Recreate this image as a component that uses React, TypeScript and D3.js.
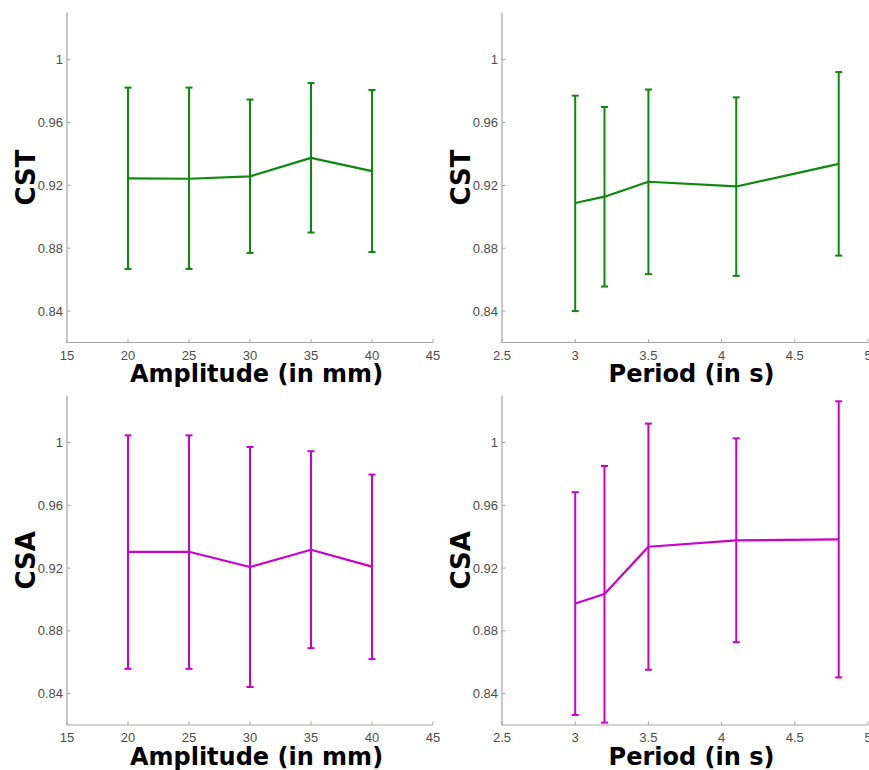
import React from "react";
import * as d3 from "d3";

// ---- Data ----
const amplitudes = [20, 25, 30, 35, 40];
const periods = [3, 3.2, 3.5, 4.1, 4.8];

const cstAmpMean = [0.9244, 0.9242, 0.9257, 0.9375, 0.9291];
const cstAmpUpper = [0.9822, 0.9822, 0.9746, 0.9851, 0.9807];
const cstAmpLower = [0.8668, 0.8668, 0.877, 0.89, 0.8776];

const cstPerMean = [0.9088, 0.9128, 0.9223, 0.9193, 0.9337];
const cstPerUpper = [0.9771, 0.9699, 0.981, 0.976, 0.9921];
const cstPerLower = [0.84, 0.8556, 0.8635, 0.8624, 0.8753];

const csaAmpMean = [0.9304, 0.9304, 0.9207, 0.9317, 0.9209];
const csaAmpUpper = [1.0046, 1.0046, 0.9972, 0.9945, 0.9796];
const csaAmpLower = [0.8558, 0.8558, 0.8442, 0.869, 0.862];

const csaPerMean = [0.8974, 0.9035, 0.9336, 0.9377, 0.9383];
const csaPerUpper = [0.9684, 0.9851, 1.0121, 1.0027, 1.0263];
const csaPerLower = [0.8264, 0.8215, 0.8552, 0.8728, 0.8503];

const ampTicks = [15, 20, 25, 30, 35, 40, 45];
const perTicks = [2.5, 3, 3.5, 4, 4.5, 5];
const yTicks = [0.84, 0.88, 0.92, 0.96, 1];
const yDomain: [number, number] = [0.82, 1.03];

const GREEN = "#0b8a0b";
const MAGENTA = "#cc00cc";

type PanelProps = {
  xs: number[];
  mean: number[];
  upper: number[];
  lower: number[];
  xDomain: [number, number];
  xRange: [number, number];
  yRange: [number, number];
  xTicks: number[];
  xLabel: string;
  yLabel: string;
  yLabelX: number;
  xLabelY: number;
  color: string;
};

function Panel(p: PanelProps) {
  const x = d3.scaleLinear().domain(p.xDomain).range(p.xRange);
  const y = d3.scaleLinear().domain(yDomain).range(p.yRange);
  const line = d3
    .line<number>()
    .x((_, i) => x(p.xs[i]))
    .y((d) => y(d));
  const x0 = p.xRange[0];
  const x1 = p.xRange[1];
  const yb = p.yRange[0];
  const yt = p.yRange[1];
  const axisColor = "#a6a6a6";
  const tickColor = "#4d4d4d";
  const cap = 3.5;
  return (
    <g>
      {/* axes */}
      <path d={`M${x0},${yt}V${yb}H${x1}`} fill="none" stroke={axisColor} strokeWidth={1.2} />
      {p.xTicks.map((t) => (
        <g key={"x" + t}>
          <line x1={x(t)} x2={x(t)} y1={yb} y2={yb - 3.5} stroke={axisColor} strokeWidth={1} />
          <text
            x={x(t)}
            y={yb + 17}
            textAnchor="middle"
            fontFamily="'Liberation Sans', Arial, sans-serif"
            fontSize={13}
            fill={tickColor}
          >
            {String(t)}
          </text>
        </g>
      ))}
      {yTicks.map((t) => (
        <g key={"y" + t}>
          <line x1={x0} x2={x0 + 3.5} y1={y(t)} y2={y(t)} stroke={axisColor} strokeWidth={1} />
          <text
            x={x0 - 4}
            y={y(t) + 4.5}
            textAnchor="end"
            fontFamily="'Liberation Sans', Arial, sans-serif"
            fontSize={13}
            fill={tickColor}
          >
            {String(t)}
          </text>
        </g>
      ))}
      {/* error bars */}
      {p.xs.map((v, i) => (
        <g key={"e" + i} stroke={p.color} strokeWidth={2} fill="none">
          <line x1={x(v)} x2={x(v)} y1={y(p.upper[i])} y2={y(p.lower[i])} />
          <line x1={x(v) - cap} x2={x(v) + cap} y1={y(p.upper[i])} y2={y(p.upper[i])} />
          <line x1={x(v) - cap} x2={x(v) + cap} y1={y(p.lower[i])} y2={y(p.lower[i])} />
        </g>
      ))}
      <path d={line(p.mean) || ""} fill="none" stroke={p.color} strokeWidth={2.2} strokeLinejoin="round" />
      {/* labels */}
      <text
        x={(x0 + x1) / 2 + 6.5}
        y={p.xLabelY}
        textAnchor="middle"
        fontFamily="'DejaVu Sans', sans-serif"
        fontWeight="bold"
        fontSize={24}
        fill="#000"
      >
        {p.xLabel}
      </text>
      <text
        transform={`translate(${p.yLabelX},${(yb + yt) / 2}) rotate(-90)`}
        textAnchor="middle"
        fontFamily="'DejaVu Sans', sans-serif"
        fontWeight="bold"
        fontSize={26}
        fill="#000"
      >
        {p.yLabel}
      </text>
    </g>
  );
}

export default function App() {
  const topY: [number, number] = [342.5, 12.5];
  const botY: [number, number] = [725, 395.5];
  const leftX: [number, number] = [67, 433];
  const rightX: [number, number] = [502, 868];
  return (
    <svg
      width={869}
      height={770}
      style={{ position: "absolute", left: 0, top: 0, background: "#fff" }}
    >
      <rect width={869} height={770} fill="#fff" />
      <Panel
        xs={amplitudes}
        mean={cstAmpMean}
        upper={cstAmpUpper}
        lower={cstAmpLower}
        xDomain={[15, 45]}
        xRange={leftX}
        yRange={topY}
        xTicks={ampTicks}
        xLabel="Amplitude (in mm)"
        yLabel="CST"
        yLabelX={35}
        xLabelY={382}
        color={GREEN}
      />
      <Panel
        xs={periods}
        mean={cstPerMean}
        upper={cstPerUpper}
        lower={cstPerLower}
        xDomain={[2.5, 5]}
        xRange={rightX}
        yRange={topY}
        xTicks={perTicks}
        xLabel="Period (in s)"
        yLabel="CST"
        yLabelX={470}
        xLabelY={382}
        color={GREEN}
      />
      <Panel
        xs={amplitudes}
        mean={csaAmpMean}
        upper={csaAmpUpper}
        lower={csaAmpLower}
        xDomain={[15, 45]}
        xRange={leftX}
        yRange={botY}
        xTicks={ampTicks}
        xLabel="Amplitude (in mm)"
        yLabel="CSA"
        yLabelX={35}
        xLabelY={765}
        color={MAGENTA}
      />
      <Panel
        xs={periods}
        mean={csaPerMean}
        upper={csaPerUpper}
        lower={csaPerLower}
        xDomain={[2.5, 5]}
        xRange={rightX}
        yRange={botY}
        xTicks={perTicks}
        xLabel="Period (in s)"
        yLabel="CSA"
        yLabelX={470}
        xLabelY={765}
        color={MAGENTA}
      />
    </svg>
  );
}
